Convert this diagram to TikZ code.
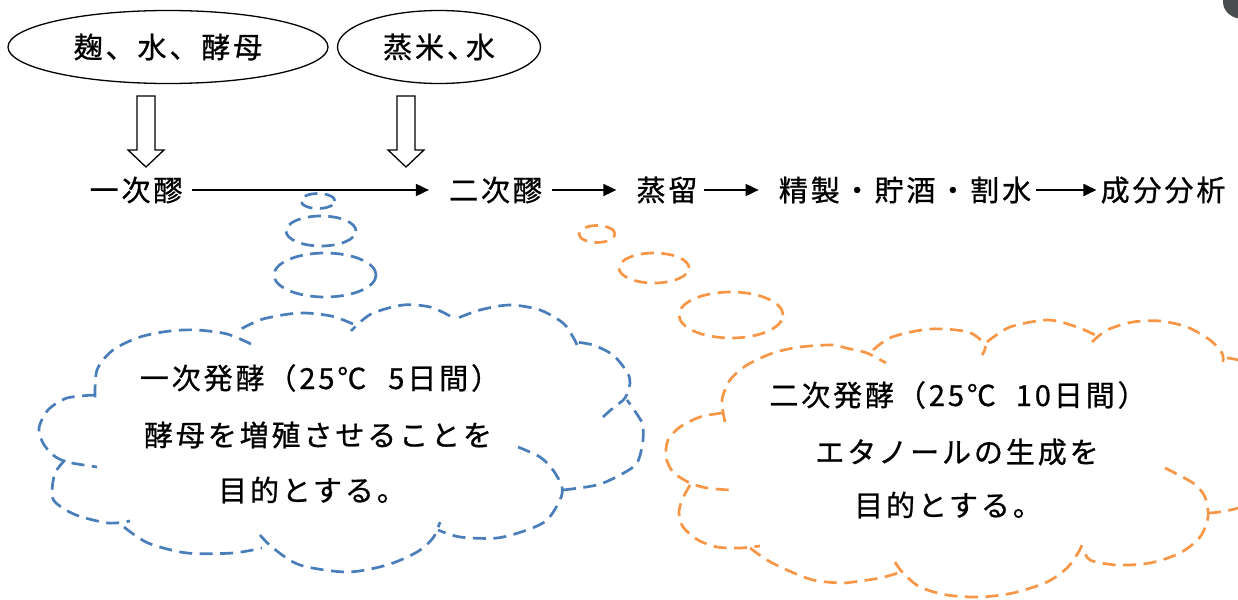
\documentclass[tikz,border=0pt]{standalone}
\usepackage{fontspec}
\newfontfamily\jp[LetterSpace=10,FakeBold=0.8]{Noto Sans CJK JP}
\usetikzlibrary{arrows.meta,shapes.geometric}
\definecolor{cblue}{RGB}{74,126,187}
\definecolor{corange}{RGB}{247,150,70}
\definecolor{blobc}{RGB}{72,78,78}
\begin{document}
\begin{tikzpicture}[x=1pt,y=-1pt,
  txt/.style={font=\jp\fontsize{29pt}{34pt}\selectfont, inner sep=0pt},
  ell/.style={draw, ellipse, line width=1.3pt, inner sep=0pt, font=\jp\fontsize{29pt}{34pt}\selectfont},
  flow/.style={line width=1.8pt, -{Triangle[length=13pt,width=12pt]}},
  bdash/.style={draw=cblue, line width=2.7pt, dash pattern=on 13pt off 7.5pt},
  odash/.style={draw=corange, line width=2.7pt, dash pattern=on 13pt off 7.5pt},
  hollow/.pic={\draw[line width=1.3pt, line join=miter, fill=white] (-9,0) -- (9,0) -- (9,54) -- (18,54) -- (0,71) -- (-18,54) -- (-9,54) -- cycle;}
]
\useasboundingbox (0,0) rectangle (1238,599);
\clip (0,0) rectangle (1238,599);

% corner blob
\fill[blobc] (1243,2) ellipse [x radius=20pt, y radius=17pt];

% input ellipses
\node[ell, minimum width=320pt, minimum height=73pt] (e1) at (168,47) {麹、水、酵母};
\node[ell, minimum width=203pt, minimum height=73pt] (e2) at (439,47) {蒸米、\kern-10pt水};

% hollow arrows
\coordinate (h1) at (146,96);
\coordinate (h2) at (406,96);
\pic at (h1) {hollow};
\pic at (h2) {hollow};

% process line
\node[txt] (p1) at (136,190) {一次醪};
\node[txt] (p2) at (495.5,190) {二次醪};
\node[txt] (p3) at (667,190) {蒸留};
\node[txt] (p4) at (905,190) {精製・貯酒・割水};
\node[txt] (p5) at (1163,190) {成分分析};
\draw[flow, shorten <=9pt, shorten >=20pt] (p1) -- (p2);
\draw[flow, shorten <=10pt, shorten >=20pt] (p2) -- (p3);
\draw[flow, shorten <=6pt, shorten >=20pt] (p3) -- (p4);
\draw[flow, shorten <=5pt, shorten >=4pt] (p4) -- (p5);

% blue thought bubbles
\draw[bdash] (318,201) ellipse [x radius=17pt, y radius=7.5pt];
\draw[bdash] (321,231) ellipse [x radius=35pt, y radius=15pt];
\draw[bdash] (325,275) ellipse [x radius=51pt, y radius=22pt];

% blue cloud
\draw[bdash] plot[smooth] coordinates {(95,395) (67,398) (48,410) (39,428) (43,443) (53,455) (67,462) (97,467)};
\draw[bdash] plot[smooth] coordinates {(65,460) (55,473) (52,493) (56,503) (76,515) (108,523) (130,521)};
\draw[bdash] plot[smooth] coordinates {(124,527) (148,543) (187,553) (233,553) (262,548)};
\draw[bdash] plot[smooth] coordinates {(260,535) (273,548) (300,565) (347,572) (387,565) (417,552) (433,538) (440,522)};
\draw[bdash] plot[smooth] coordinates {(518,447) (540,457) (553,470) (562,487) (560,500) (547,520) (527,530) (497,538) (460,537) (438,530)};
\draw[bdash] plot[smooth] coordinates {(563,490) (597,485) (620,475) (637,463) (643,440) (642,423) (632,407) (627,400)};
\draw[bdash] plot[smooth] coordinates {(603,417) (613,408) (625,398) (630,383) (627,372) (613,355) (593,345) (575,342)};
\draw[bdash] plot[smooth] coordinates {(577,345) (573,337) (563,323) (540,310) (510,305) (480,310) (453,320)};
\draw[bdash] plot[smooth] coordinates {(450,316) (430,307) (403,305) (371,314) (351,331)};
\draw[bdash] plot[smooth] coordinates {(353,324) (331,316) (299,313) (263,319) (241,329)};
\draw[bdash] plot[smooth] coordinates {(251,344) (227,334) (197,330) (170,331) (140,337) (113,350) (97,370) (95,400)};

\node[txt] (b1) at (320,378) {一次発酵（25℃\hspace{22pt}5日間）};
\node[txt] (b2) at (318,435) {酵母を増殖させることを};
\node[txt] (b3) at (312,490) {目的とする。};

% orange thought bubbles
\draw[odash] (597,234) ellipse [x radius=18pt, y radius=8.5pt];
\draw[odash] (654,268) ellipse [x radius=35pt, y radius=15pt];
\draw[odash] (731,315) ellipse [x radius=52pt, y radius=23pt];

% orange cloud
\draw[odash] plot[smooth] coordinates {(725,422) (722,400) (730,380) (747,365) (773,353) (800,347) (832,345) (846,348) (867,353) (886,363)};
\draw[odash] plot[smooth] coordinates {(873,350) (892,337) (930,329) (968,332) (985,345) (982,355)};
\draw[odash] plot[smooth] coordinates {(987,342) (1010,327) (1048,320) (1077,327) (1095,335)};
\draw[odash] plot[smooth] coordinates {(1092,342) (1107,330) (1133,322) (1160,321) (1187,327) (1210,340) (1222,353) (1223,362)};
\draw[odash] plot[smooth] coordinates {(1227,358) (1238,360) (1255,368) (1270,385)};
\draw[odash] plot[smooth] coordinates {(1208,513) (1220,512) (1238,508) (1255,500)};
\draw[odash] plot[smooth] coordinates {(1165,468) (1193,483) (1205,497) (1208,517) (1200,537) (1180,553) (1150,563) (1117,565) (1090,560) (1083,548)};
\draw[odash] plot[smooth] coordinates {(895,562) (903,573) (920,587) (947,595) (980,597) (1013,593) (1047,582) (1067,568) (1078,553) (1082,545)};
\draw[odash] plot[smooth] coordinates {(750,548) (767,560) (787,570) (813,580) (840,583) (853,582) (880,578) (898,573)};
\draw[odash] plot[smooth] coordinates {(690,485) (682,500) (679,513) (683,527) (698,540) (717,547) (740,548) (760,546)};
\draw[odash] plot[smooth] coordinates {(722,413) (700,417) (680,427) (668,440) (666,457) (673,472) (690,483) (707,488) (730,490)};

\node[txt] (o1) at (958,395) {二次発酵（25℃\hspace{20pt}10日間）};
\node[txt] (o2) at (957,452) {エタノールの生成を};
\node[txt] (o3) at (948,505) {目的とする。};
\end{tikzpicture}
\end{document}
